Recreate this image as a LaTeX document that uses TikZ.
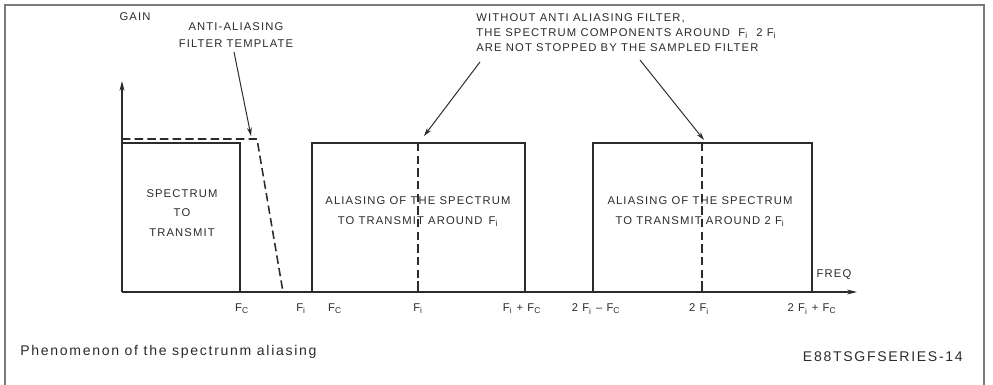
\documentclass[tikz,border=0pt]{standalone}
\usepackage{fontspec}
\setmainfont{Liberation Sans}
\newfontfamily\lblfont[LetterSpace=10]{Liberation Sans}
\newfontfamily\capfont[LetterSpace=12]{Liberation Sans}
\usetikzlibrary{arrows.meta}
\definecolor{ink}{HTML}{2B2B2B}
\definecolor{framegray}{HTML}{7A7A7A}
\newcommand\Fsub[1]{F\textsubscript{#1}}

\begin{document}
\begin{tikzpicture}[x=0.025cm,y=-0.025cm,
  every node/.style={inner sep=0pt,text=ink,font=\lblfont\fontsize{8}{12}\selectfont},
  band/.style={draw=ink,line width=1pt},
  tmpl/.style={draw=ink,line width=1.1pt,dash pattern=on 6pt off 3pt},
  pointer/.style={draw=ink,line width=0.7pt,-{Stealth[length=6pt,width=3.5pt]}},
  axis/.style={draw=ink,line width=1pt,-{Stealth[length=7pt,width=3.5pt]}}]
\useasboundingbox (0,0) rectangle (993,385);
\draw[framegray,line width=1.2pt] (5,385) -- (5,5) -- (984,5) -- (984,385);

\coordinate (o) at (122,292);
\coordinate (ytop) at (122,81);
\coordinate (xend) at (857,292);
\draw[axis] (o) -- (ytop);
\draw[axis] (o) -- (xend);
\node (gain) at (135,17) {GAIN};
\node (freq) at (834,275) {FREQ};

% bands
\draw[band] (o) |- (240,143) -- (240,292);
\draw[band] (312,292) |- (525,143) -- (525,292);
\draw[band] (593,292) |- (812,143) -- (812,292);
\draw[tmpl] (122,139) -- (257,139) -- (283,292);
\draw[tmpl] (418,143) -- (418,282);
\draw[tmpl] (702,143) -- (702,282);
\draw[band] (418,281) -- (418,292) (702,281) -- (702,292);

\node[align=center] (spec) at (182,213) {SPECTRUM\\[2pt]TO\\[2pt]TRANSMIT};
\node[align=center] (alias1) at (418,212) {ALIASING OF THE SPECTRUM\\[2pt]TO TRANSMIT AROUND \,\Fsub{i}};
\node[align=center] (alias2) at (700,212) {ALIASING OF THE SPECTRUM\\[2pt]TO TRANSMIT AROUND 2 \Fsub{i}};

% axis labels
\node (fc1) at (242,309) {\Fsub{C}};
\node (fi1) at (301,309) {\Fsub{i}};
\node (fc2) at (335,309) {\Fsub{C}};
\node (fi2) at (418,309) {\Fsub{i}};
\node (fifc) at (522,309) {\Fsub{i} + \Fsub{C}};
\node (tfimfc) at (596,309) {2 \Fsub{i} \textendash\ \Fsub{C}};
\node (tfi) at (699,309) {2 \Fsub{i}};
\node (tfifc) at (812,309) {2 \Fsub{i} + \Fsub{C}};

% call-outs
\node[align=center,font=\lblfont\fontsize{8}{11.5}\selectfont] (aaf) at (236,35) {ANTI-ALIASING\\FILTER TEMPLATE};
\coordinate (aaf0) at (234,52);
\coordinate (aaf1) at (251,136);
\draw[pointer] (aaf0) -- (aaf1);
\node[align=left,anchor=north west,font=\lblfont\fontsize{8}{10.8}\selectfont] (wof) at (476,13) {WITHOUT ANTI ALIASING FILTER,\\THE SPECTRUM COMPONENTS AROUND \ \Fsub{i} \ 2 \Fsub{i}\\ARE NOT STOPPED BY THE SAMPLED FILTER};
\coordinate (wofl) at (480,62);
\coordinate (wofr) at (640,60);
\coordinate (fitop) at (424,136);
\coordinate (tfitop) at (704,140);
\draw[pointer] (wofl) -- (fitop);
\draw[pointer] (wofr) -- (tfitop);

\node[anchor=base west,font=\capfont\fontsize{10}{12}\selectfont] (cap) at (20,356) {Phenomenon of the spectrunm aliasing};
\node[anchor=base east,font=\capfont\fontsize{10}{12}\selectfont] (ref) at (963,362) {E88TSGFSERIES-14};
\end{tikzpicture}
\end{document}
